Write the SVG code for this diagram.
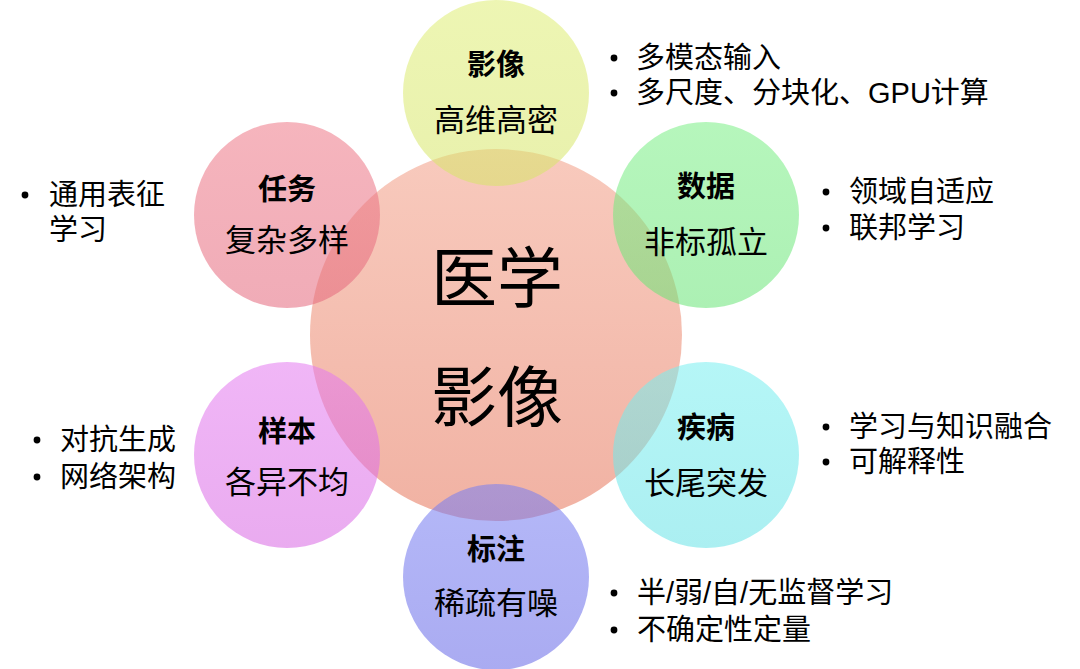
<svg xmlns="http://www.w3.org/2000/svg" width="1080" height="669" viewBox="0 0 1080 669">
<defs>
<style>
text{font-family:"Liberation Sans","Noto Sans CJK SC",sans-serif;fill:#000;}
.title{font-size:29px;font-weight:bold;text-anchor:middle;dominant-baseline:central;}
.sub{font-size:31px;text-anchor:middle;dominant-baseline:central;}
.main{font-family:"Noto Sans CJK SC","Liberation Sans",sans-serif;font-size:66px;text-anchor:middle;dominant-baseline:central;}
.bl{font-size:29px;dominant-baseline:central;}
.small{fill-opacity:0.55;}
.dot{fill:#000;}
</style>
<linearGradient id="gC" x1="0" y1="0" x2="0" y2="1"><stop offset="0" stop-color="#f8cabd"/><stop offset="1" stop-color="#f1b2a3"/></linearGradient>
<linearGradient id="gY" x1="0" y1="0" x2="0" y2="1"><stop offset="0" stop-color="#dfee75"/><stop offset="1" stop-color="#d6e568"/></linearGradient>
<linearGradient id="gG" x1="0" y1="0" x2="0" y2="1"><stop offset="0" stop-color="#7aef85"/><stop offset="1" stop-color="#68e476"/></linearGradient>
<linearGradient id="gCy" x1="0" y1="0" x2="0" y2="1"><stop offset="0" stop-color="#78eff0"/><stop offset="1" stop-color="#66e2e6"/></linearGradient>
<linearGradient id="gB" x1="0" y1="0" x2="0" y2="1"><stop offset="0" stop-color="#777ef3"/><stop offset="1" stop-color="#6466e6"/></linearGradient>
<linearGradient id="gV" x1="0" y1="0" x2="0" y2="1"><stop offset="0" stop-color="#e47af0"/><stop offset="1" stop-color="#d866e3"/></linearGradient>
<linearGradient id="gP" x1="0" y1="0" x2="0" y2="1"><stop offset="0" stop-color="#ee7887"/><stop offset="1" stop-color="#e4677c"/></linearGradient>
</defs>
<rect width="1080" height="669" fill="#fff"/>

<g id="center">
<circle cx="496" cy="335" r="186" fill="url(#gC)"/>
</g>

<g id="node-image">
<circle class="small" cx="496" cy="93" r="93" fill="url(#gY)"/>
<text class="title" x="496" y="65">影像</text>
<text class="sub" x="496" y="120">高维高密</text>
</g>

<g id="node-data">
<circle class="small" cx="706" cy="215" r="93" fill="url(#gG)"/>
<text class="title" x="706" y="187">数据</text>
<text class="sub" x="706" y="242">非标孤立</text>
</g>

<g id="node-disease">
<circle class="small" cx="706" cy="455" r="93" fill="url(#gCy)"/>
<text class="title" x="706" y="428">疾病</text>
<text class="sub" x="706" y="483">长尾突发</text>
</g>

<g id="node-label">
<circle class="small" cx="496" cy="577" r="93" fill="url(#gB)"/>
<text class="title" x="496" y="550">标注</text>
<text class="sub" x="496" y="603">稀疏有噪</text>
</g>

<g id="node-sample">
<circle class="small" cx="287" cy="455" r="93" fill="url(#gV)"/>
<text class="title" x="287" y="432">样本</text>
<text class="sub" x="287" y="482">各异不均</text>
</g>

<g id="node-task">
<circle class="small" cx="287" cy="215" r="93" fill="url(#gP)"/>
<text class="title" x="287" y="190">任务</text>
<text class="sub" x="287" y="240">复杂多样</text>
</g>

<g id="center-text">
<text class="main" x="497" y="273">医学</text>
<text class="main" x="497" y="392">影像</text>
</g>

<g id="connectors"></g>

<g id="bullets-image">
<circle class="dot" cx="614" cy="58" r="3.4"/>
<circle class="dot" cx="614" cy="93" r="3.4"/>
<text class="bl" x="636" y="58">多模态输入</text>
<text class="bl" x="636" y="93">多尺度、分块化、GPU计算</text>
</g>
<g id="bullets-data">
<circle class="dot" cx="826" cy="192" r="3.4"/>
<circle class="dot" cx="826" cy="228" r="3.4"/>
<text class="bl" x="849" y="192">领域自适应</text>
<text class="bl" x="849" y="228">联邦学习</text>
</g>
<g id="bullets-disease">
<circle class="dot" cx="826" cy="427" r="3.4"/>
<circle class="dot" cx="826" cy="462" r="3.4"/>
<text class="bl" x="849" y="427">学习与知识融合</text>
<text class="bl" x="849" y="462">可解释性</text>
</g>
<g id="bullets-label">
<circle class="dot" cx="614" cy="593" r="3.4"/>
<circle class="dot" cx="614" cy="630" r="3.4"/>
<text class="bl" x="637" y="593">半/弱/自/无监督学习</text>
<text class="bl" x="637" y="630">不确定性定量</text>
</g>
<g id="bullets-sample">
<circle class="dot" cx="37" cy="440" r="3.4"/>
<circle class="dot" cx="37" cy="477" r="3.4"/>
<text class="bl" x="60" y="440">对抗生成</text>
<text class="bl" x="60" y="477">网络架构</text>
</g>
<g id="bullets-task">
<circle class="dot" cx="25" cy="195" r="3.4"/>
<text class="bl" x="49" y="195">通用表征</text>
<text class="bl" x="49" y="230">学习</text>
</g>
</svg>
